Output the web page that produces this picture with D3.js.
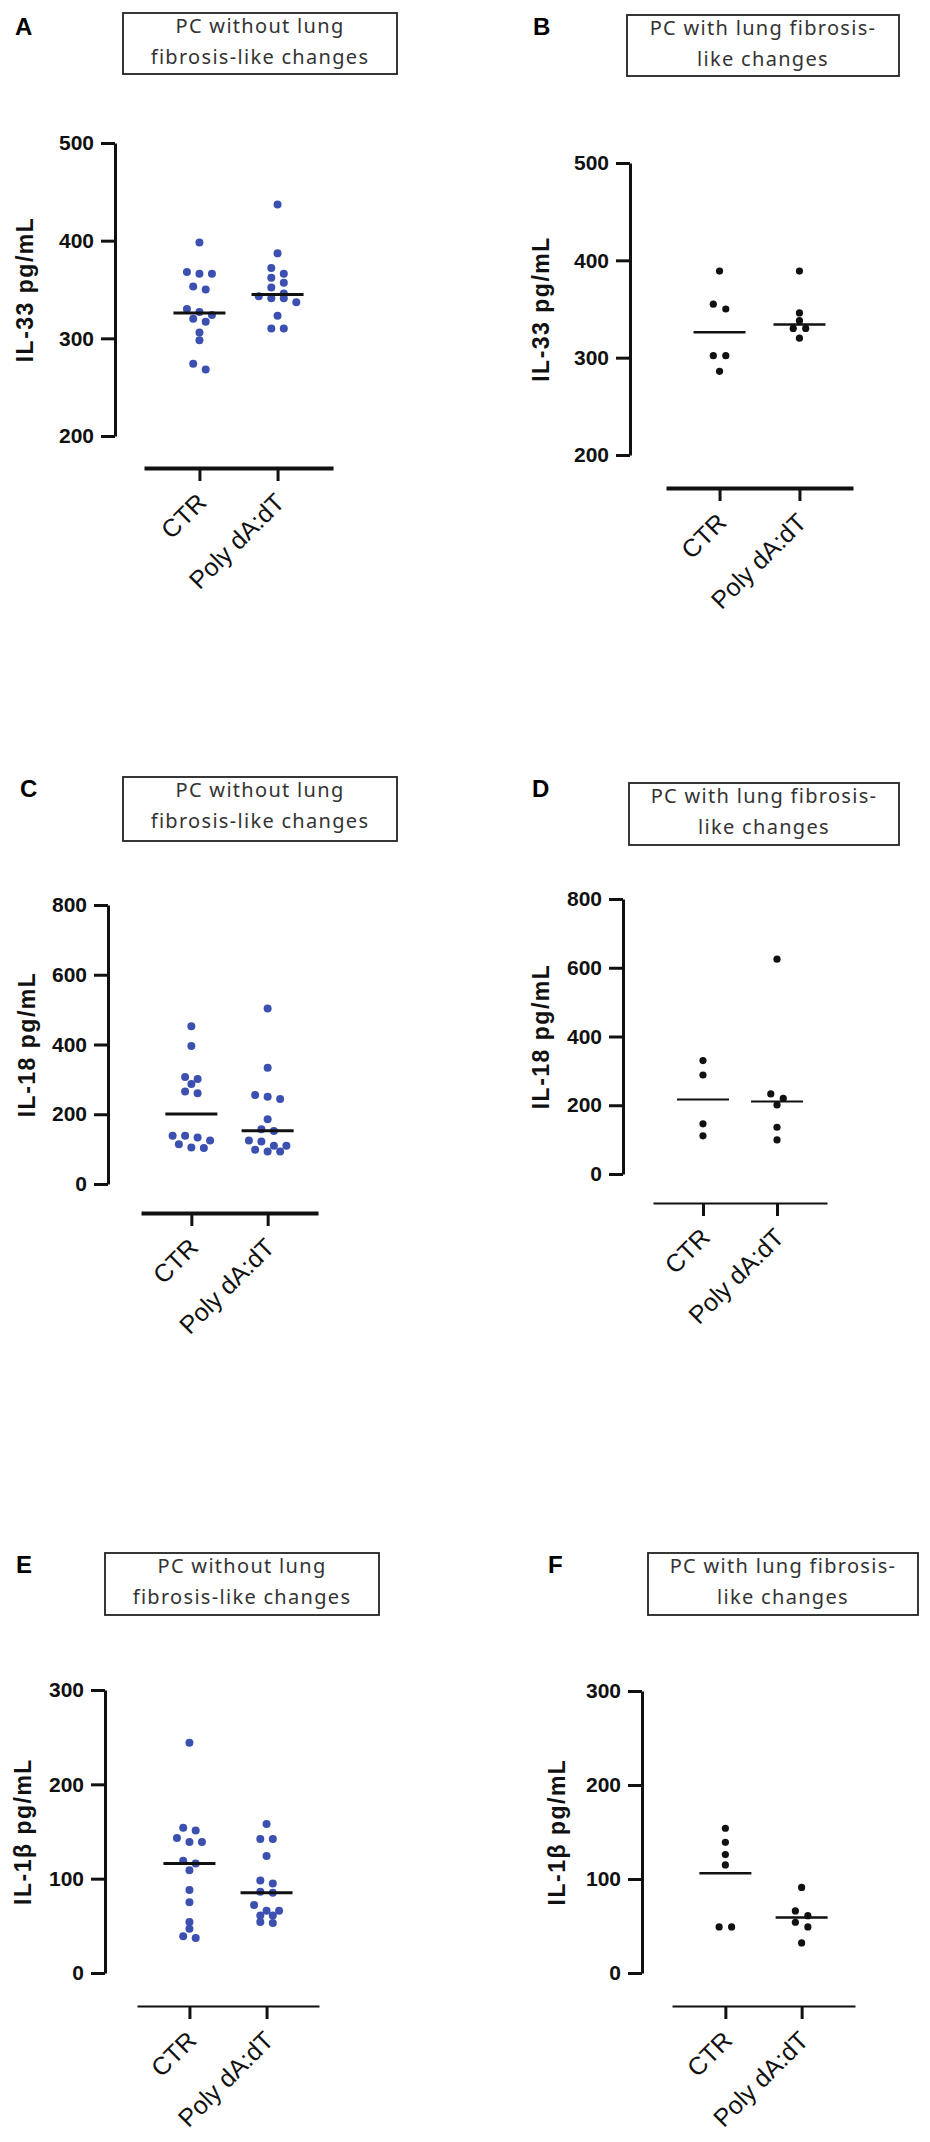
<!DOCTYPE html>
<html>
<head>
<meta charset="utf-8">
<script src="https://cdn.jsdelivr.net/npm/d3@7"></script>
<style>
  body { margin: 0; background: #fff; }
  svg { display: block; }
</style>
</head>
<body>
<div id="canvas"></div>
<script>
"use strict"

let svgWidth = 930;
let svgHeight = 2142;

/* categories on the x axis */
let groups = ["CTR", "Poly dA:dT"];

/* y tick labels, one list per cytokine */
let il33Ticks = [200, 300, 400, 500];
let il18Ticks = [0, 200, 400, 600, 800];
let il1bTicks = [0, 100, 200, 300];

/* box titles */
let titleNoFib = ["PC without lung", "fibrosis-like changes"];
let titleFib = ["PC with lung fibrosis-", "like changes"];

/* A: IL-33, no fibrosis-like changes (pg/mL) */
let il33NoFibCtr = [398, 368, 366, 366, 353, 350, 330, 327, 324, 320, 317, 306, 298, 274, 268];
let il33NoFibPoly = [437, 387, 372, 366, 362, 357, 352, 346, 343, 341, 341, 337, 323, 310, 310];
let il33NoFibMid = [326, 345];

/* B: IL-33, with fibrosis-like changes */
let il33FibCtr = [389, 355, 350, 302, 302, 286];
let il33FibPoly = [389, 346, 338, 330, 330, 320];
let il33FibMid = [326, 334];

/* C: IL-18, no fibrosis-like changes */
let il18NoFibCtr = [452, 396, 307, 301, 287, 265, 260, 138, 138, 133, 125, 114, 105, 103];
let il18NoFibPoly = [503, 333, 255, 250, 244, 186, 157, 152, 125, 122, 110, 110, 98, 93, 93];
let il18NoFibMid = [201, 153];

/* D: IL-18, with fibrosis-like changes */
let il18FibCtr = [330, 288, 146, 111];
let il18FibPoly = [625, 233, 220, 201, 136, 99];
let il18FibMid = [217, 211];

/* E: IL-1b, no fibrosis-like changes */
let il1bNoFibCtr = [244, 154, 151, 143, 139, 139, 119, 116, 109, 88, 75, 54, 47, 39, 37];
let il1bNoFibPoly = [158, 142, 142, 124, 98, 95, 86, 85, 72, 66, 66, 61, 61, 54, 53];
let il1bNoFibMid = [116, 85];

/* F: IL-1b, with fibrosis-like changes */
let il1bFibCtr = [154, 139, 126, 115, 49, 49];
let il1bFibPoly = [91, 66, 61, 54, 49, 32];
let il1bFibMid = [106, 59];

let blue = "#3c50b0";
let black = "#111";
let sans = "'Liberation Sans', Arial, sans-serif";

let svg = d3.select("#canvas")
    .append("svg")
    .attr("width", svgWidth)
    .attr("height", svgHeight);

svg.append("rect")
    .attr("width", svgWidth)
    .attr("height", svgHeight)
    .attr("fill", "#fff");

/* where each panel sits on the page (positions only, no data) */
let panels = [
    {letter: "A", at: [15, 35], box: [123, 13, 274, 61], title: titleNoFib, yTitle: "IL-33 pg/mL", titleX: 33,
     ctr: il33NoFibCtr, poly: il33NoFibPoly, mid: il33NoFibMid, ticks: il33Ticks, color: blue, r: 4, midW: 3,
     axisX: 115, yTop: 143, yBottom: 436, xLeft: 144, xRight: 333, xPad: 0.71, xAxisY: 468, xAxisW: 4},
    {letter: "B", at: [533, 35], box: [627, 15, 272, 61], title: titleFib, yTitle: "IL-33 pg/mL", titleX: 549,
     ctr: il33FibCtr, poly: il33FibPoly, mid: il33FibMid, ticks: il33Ticks, color: black, r: 3.6, midW: 2.5,
     axisX: 630, yTop: 163, yBottom: 455, xLeft: 666, xRight: 853, xPad: 0.67, xAxisY: 488, xAxisW: 4},
    {letter: "C", at: [20, 797], box: [123, 777, 274, 64], title: titleNoFib, yTitle: "IL-18 pg/mL", titleX: 35,
     ctr: il18NoFibCtr, poly: il18NoFibPoly, mid: il18NoFibMid, ticks: il18Ticks, color: blue, r: 4, midW: 3,
     axisX: 108, yTop: 905, yBottom: 1184, xLeft: 141, xRight: 318, xPad: 0.66, xAxisY: 1213, xAxisW: 4},
    {letter: "D", at: [532, 797], box: [629, 783, 270, 62], title: titleFib, yTitle: "IL-18 pg/mL", titleX: 549,
     ctr: il18FibCtr, poly: il18FibPoly, mid: il18FibMid, ticks: il18Ticks, color: black, r: 3.6, midW: 2,
     axisX: 623, yTop: 899, yBottom: 1174, xLeft: 653, xRight: 827, xPad: 0.675, xAxisY: 1203, xAxisW: 2},
    {letter: "E", at: [16, 1573], box: [105, 1553, 274, 62], title: titleNoFib, yTitle: "IL-1\u03b2 pg/mL", titleX: 31,
     ctr: il1bNoFibCtr, poly: il1bNoFibPoly, mid: il1bNoFibMid, ticks: il1bTicks, color: blue, r: 4, midW: 3,
     axisX: 105, yTop: 1690, yBottom: 1973, xLeft: 137, xRight: 319, xPad: 0.68, xAxisY: 2006, xAxisW: 2},
    {letter: "F", at: [548, 1573], box: [648, 1553, 270, 62], title: titleFib, yTitle: "IL-1\u03b2 pg/mL", titleX: 565,
     ctr: il1bFibCtr, poly: il1bFibPoly, mid: il1bFibMid, ticks: il1bTicks, color: black, r: 3.6, midW: 2.5,
     axisX: 642, yTop: 1691, yBottom: 1973, xLeft: 672, xRight: 855, xPad: 0.70, xAxisY: 2006, xAxisW: 2}
];

/* spreads close values sideways the way a scatter dot plot does:
   values less than `gap` px apart share a row, rows are centred on the group */
function swarm(values, y, step, gap) {
    let sorted = values.slice().sort((a, b) => b - a);
    let rows = [];
    sorted.forEach(v => {
        let last = rows[rows.length - 1];
        if (last && Math.abs(y(last[0]) - y(v)) < gap) last.push(v);
        else rows.push([v]);
    });
    let out = [];
    rows.forEach(row => row.forEach((v, i) => {
        out.push({value: v, offset: (i - (row.length - 1) / 2) * step});
    }));
    return out;
}

function drawPanel(p) {
    let g = svg.append("g");

    // panel letter
    g.append("text")
        .attr("x", p.at[0])
        .attr("y", p.at[1])
        .attr("font-family", sans)
        .attr("font-weight", "bold")
        .attr("font-size", 24)
        .text(p.letter);

    // boxed title
    g.append("rect")
        .attr("x", p.box[0])
        .attr("y", p.box[1])
        .attr("width", p.box[2])
        .attr("height", p.box[3])
        .attr("fill", "none")
        .attr("stroke", "#222")
        .attr("stroke-width", 1.8);

    g.selectAll(null)
        .data(p.title)
        .join("text")
        .attr("x", p.box[0] + p.box[2] / 2)
        .attr("y", (d, i) => p.box[1] + 20 + i * 31)
        .attr("text-anchor", "middle")
        .attr("font-family", "'Noto Sans', sans-serif")
        .attr("font-size", 20)
        .attr("letter-spacing", 1.3)
        .attr("fill", "#333")
        .text(d => d);

    let y = d3.scaleLinear()
        .domain(d3.extent(p.ticks))
        .range([p.yBottom, p.yTop]);

    let x = d3.scalePoint()
        .domain(groups)
        .range([p.xLeft, p.xRight])
        .padding(p.xPad);

    // y axis
    let yAxis = g.append("g")
        .attr("transform", `translate(${p.axisX},0)`)
        .call(d3.axisLeft(y).tickValues(p.ticks).tickSize(14).tickSizeOuter(0).tickPadding(7));
    yAxis.select(".domain").attr("stroke", black).attr("stroke-width", 3);
    yAxis.selectAll(".tick line").attr("stroke", black).attr("stroke-width", 3);
    yAxis.selectAll(".tick text")
        .attr("fill", black)
        .attr("font-family", sans)
        .attr("font-weight", "bold")
        .attr("font-size", 21);

    // y title
    g.append("text")
        .attr("transform", `translate(${p.titleX},${(p.yTop + p.yBottom) / 2}) rotate(-90)`)
        .attr("text-anchor", "middle")
        .attr("font-family", sans)
        .attr("font-weight", "bold")
        .attr("font-size", 23)
        .attr("letter-spacing", 1.5)
        .attr("fill", black)
        .text(p.yTitle);

    // x axis
    let xAxis = g.append("g")
        .attr("transform", `translate(0,${p.xAxisY})`)
        .call(d3.axisBottom(x).tickSize(13).tickSizeOuter(0));
    xAxis.select(".domain").attr("stroke", black).attr("stroke-width", p.xAxisW);
    xAxis.selectAll(".tick line").attr("stroke", black).attr("stroke-width", 3);
    xAxis.selectAll(".tick text")
        .attr("x", 0)
        .attr("y", 0)
        .attr("dy", 0)
        .attr("transform", "translate(8,36) rotate(-45)")
        .attr("text-anchor", "end")
        .attr("fill", black)
        .attr("font-family", sans)
        .attr("font-size", 25)
        .text(d => d);

    // dots
    let dots = [];
    [p.ctr, p.poly].forEach((vals, gi) => {
        swarm(vals, y, 12.5, 6.5).forEach(d => {
            dots.push({group: groups[gi], value: d.value, offset: d.offset});
        });
    });

    g.selectAll(null)
        .data(dots)
        .join("circle")
        .attr("cx", d => x(d.group) + d.offset)
        .attr("cy", d => y(d.value))
        .attr("r", p.r)
        .attr("fill", p.color);

    // centre lines
    g.selectAll(null)
        .data(p.mid)
        .join("line")
        .attr("x1", (d, i) => x(groups[i]) - 26)
        .attr("x2", (d, i) => x(groups[i]) + 26)
        .attr("y1", d => y(d))
        .attr("y2", d => y(d))
        .attr("stroke", black)
        .attr("stroke-width", p.midW);
}

panels.forEach(drawPanel);
</script>
</body>
</html>
